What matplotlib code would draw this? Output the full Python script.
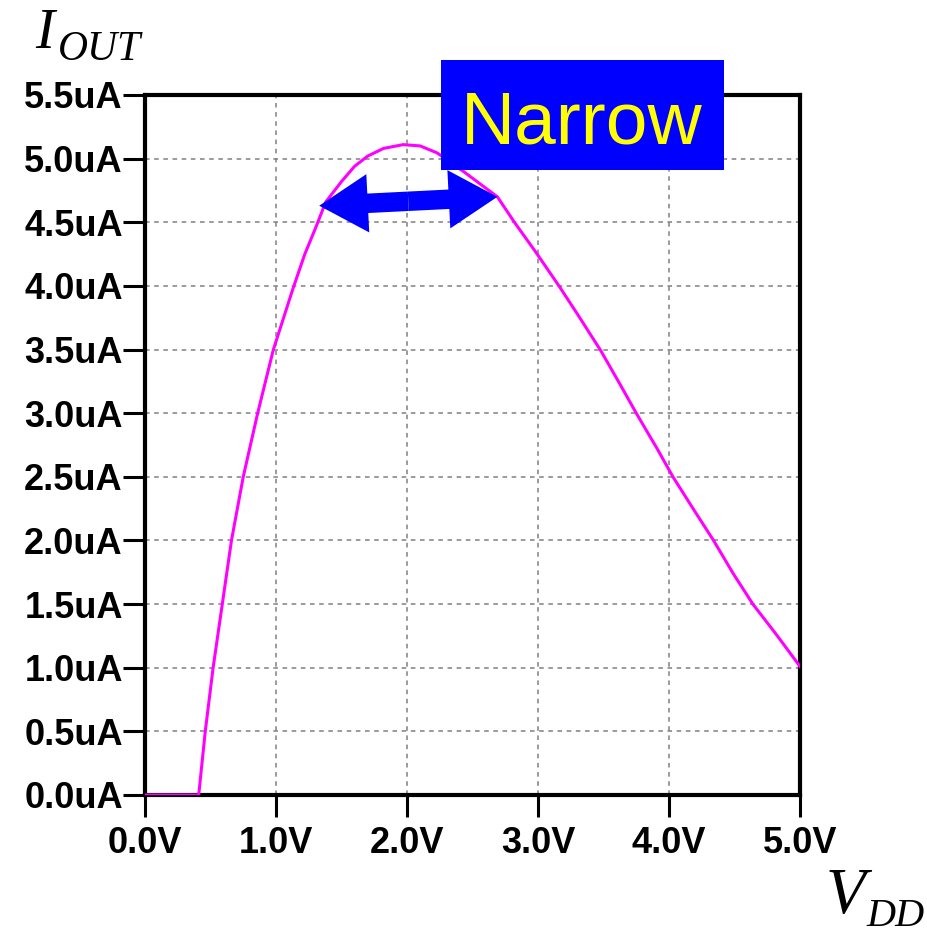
import matplotlib
matplotlib.use('Agg')
import matplotlib.pyplot as plt
from matplotlib.patches import Rectangle
from matplotlib.font_manager import FontProperties

# I-V curve (V in volts, I in uA)
vdd = [0.0, 0.41, 0.46, 0.52, 0.59, 0.66, 0.75, 0.86, 0.98, 1.13, 1.22, 1.30,
       1.38, 1.50, 1.60, 1.70, 1.82, 1.97, 2.10, 2.23, 2.43, 2.56, 2.69, 2.82,
       2.98, 3.16, 3.30, 3.48, 3.63, 3.75, 3.91, 4.03, 4.19, 4.34, 4.49, 4.64,
       4.82, 5.0]
iout = [0.0, 0.0, 0.5, 1.0, 1.5, 2.0, 2.5, 3.0, 3.5, 3.98, 4.25, 4.45,
        4.66, 4.82, 4.94, 5.02, 5.08, 5.11, 5.10, 5.045, 4.90, 4.80, 4.70, 4.5,
        4.27, 4.0, 3.78, 3.49, 3.22, 3.00, 2.72, 2.50, 2.24, 2.0, 1.74, 1.5,
        1.26, 1.01]

x_ticks = [0.0, 1.0, 2.0, 3.0, 4.0, 5.0]
y_ticks = [0.0, 0.5, 1.0, 1.5, 2.0, 2.5, 3.0, 3.5, 4.0, 4.5, 5.0, 5.5]
x_labels = [f'{v:.1f}V' for v in x_ticks]
y_labels = [f'{v:.1f}uA' for v in y_ticks]

# double arrow ends (V, uA)
arrow_left = (1.33, 4.63)
arrow_right = (2.69, 4.70)

W, H = 927, 934
fig = plt.figure(figsize=(W / 100, H / 100), dpi=100)
ax = fig.add_axes([145 / W, 1 - 795 / H, 655 / W, 700 / H])

ax.plot(vdd, iout, color='#FF00FF', lw=2.2, zorder=3, solid_joinstyle='round')

ax.set_xlim(0, 5)
ax.set_ylim(0, 5.5)
ax.set_xticks(x_ticks)
ax.set_xticklabels(x_labels)
ax.set_yticks(y_ticks)
ax.set_yticklabels(y_labels)

tick_font = FontProperties(family='Liberation Sans', weight='bold', size=26)
for lab in ax.get_xticklabels() + ax.get_yticklabels():
    lab.set_fontproperties(tick_font)

ax.tick_params(axis='both', direction='out', length=16, width=2.2, color='black')
ax.tick_params(axis='x', pad=6)
ax.tick_params(axis='y', pad=0)

for s in ax.spines.values():
    s.set_linewidth(3)
    s.set_color('black')

ax.grid(True, color='#808080', lw=1.1, linestyle=(0, (3, 3)))
ax.set_axisbelow(True)

# blue double-headed arrow
mid = ((arrow_left[0] + arrow_right[0]) / 2, (arrow_left[1] + arrow_right[1]) / 2)
style = 'simple,head_width=42,head_length=35,tail_width=14'
for tip in (arrow_left, arrow_right):
    ax.annotate('', xy=tip, xytext=mid,
                arrowprops=dict(arrowstyle=style, mutation_scale=1,
                                color='#0000FF', lw=0, shrinkA=0, shrinkB=0),
                zorder=4)

# "Narrow" label box
fig.patches.append(Rectangle((441 / W, 1 - 170 / H), 283 / W, 110 / H,
                             transform=fig.transFigure, facecolor='#0000FF',
                             edgecolor='none', zorder=5))
fig.text(581.5 / W, 1 - 143 / H, 'Narrow', color='#FFFF00', fontsize=54,
         family='Liberation Sans', ha='center', va='baseline', zorder=6)

# axis names, main letter plus subscript
name_font = dict(family='Liberation Serif', style='italic', va='baseline')
fig.text(35 / W, 1 - 48 / H, 'I', fontsize=41, **name_font)
fig.text(58 / W, 1 - 60 / H, 'OUT', fontsize=30, **name_font)
fig.text(826 / W, 1 - 913 / H, 'V', fontsize=47, **name_font)
fig.text(866 / W, 1 - 926 / H, 'DD', fontsize=29, **name_font)

fig.savefig('out.png', dpi=100)
